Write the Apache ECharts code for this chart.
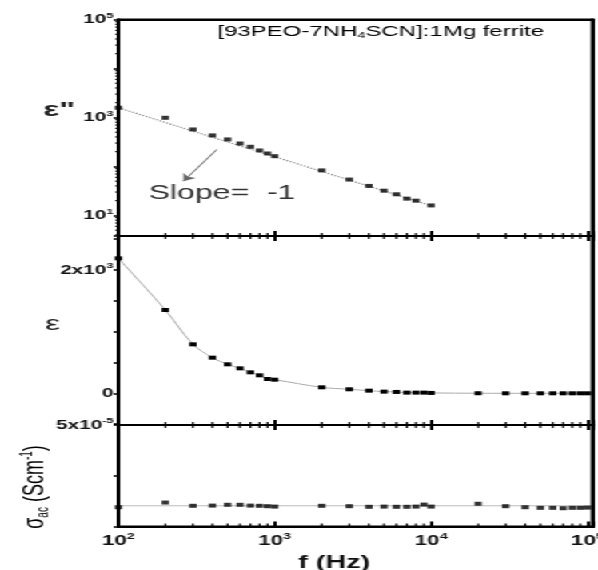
<!DOCTYPE html>
<html><head><meta charset="utf-8">
<script src="https://cdn.jsdelivr.net/npm/echarts@6/dist/echarts.min.js"></script>
<style>
html,body{margin:0;padding:0;overflow:hidden;background:#fff;width:598px;height:570px}
#wrap{position:relative;width:374px;height:570px;transform:scaleX(1.599);transform-origin:0 0;}
#c{position:absolute;left:0;top:0;width:374px;height:570px;}
.frame{position:absolute;box-sizing:border-box;border:2px solid #000;pointer-events:none;z-index:10;}
</style></head><body><div id="wrap"><div id="c"></div></div>
<script>
// ---------- data ----------
const freqTop = [100,200,300,400,500,600,700,800,900,1000,2000,3000,4000,5000,6000,7000,8000,10000];
const epsLoss = [1580,985,569,430,356,294,252,212,184,162,83,54,40,32,27,22,20,16];
const slopeFitX = [100, 10000];
const slopeFitY = [1580, 15.8];
const arrowFrom = [427, 222];
const arrowTo = [261, 50];

const freqAll = [100,200,300,400,500,600,700,800,900,
                 1000,2000,3000,4000,5000,6000,7000,8000,9000,
                 10000,20000,30000,40000,50000,60000,70000,80000,90000,100000];
const epsReal = [2189,1351,794,578,470,405,340,292,232,
                 221,97,65,43,27,22,11,11,11,
                 6,1,0,0,0,0,0,0,0,0];
const sigmaAc = [0.95e-5,1.18e-5,1.02e-5,1.03e-5,1.07e-5,1.07e-5,1.03e-5,1.02e-5,1.0e-5,
                 0.98e-5,1.02e-5,1.0e-5,0.97e-5,0.98e-5,0.97e-5,0.97e-5,0.98e-5,1.08e-5,
                 0.98e-5,1.12e-5,1.0e-5,0.95e-5,0.92e-5,0.92e-5,0.9e-5,0.92e-5,0.92e-5,0.93e-5];
const sigmaFitX = [100, 107600];
const sigmaFitY = [1.02e-5, 1.02e-5];

const minorX = [200,300,400,500,600,700,800,900,2000,3000,4000,5000,6000,7000,8000,9000,
                20000,30000,40000,50000,60000,70000,80000,90000];
const minorY = [4,5,6,7,8,9,20,30,40,50,60,70,80,90,200,300,400,500,600,700,800,900,
                2000,3000,4000,5000,6000,7000,8000,9000,20000,30000,40000,50000,60000,70000,80000,90000];

const X_MIN = 100, X_MAX = 107600;
const FONT = "'Liberation Sans', Arial, sans-serif";

// ---------- layout ----------
const CW = 374, GL = 74, GR = 3.5;
const GW = CW - GL - GR;
const panels = [{top: 19.5, height: 216.5}, {top: 236, height: 189}, {top: 425, height: 101.5}];

// frame overlay (panel borders)
panels.forEach(p => {
  const d = document.createElement('div');
  d.className = 'frame';
  d.style.left = (GL - 1) + 'px';
  d.style.top = (p.top - 1) + 'px';
  d.style.width = (GW + 2) + 'px';
  d.style.height = (p.height + 2) + 'px';
  document.getElementById('wrap').appendChild(d);
});

// ---------- helpers ----------
const rich = {
  b: {fontFamily: FONT, fontWeight: 'bold', fontSize: 13, color: '#111', lineHeight: 16},
  e: {fontFamily: FONT, fontWeight: 'bold', fontSize: 8, color: '#111', verticalAlign: 'top'}
};
const richX = {
  b: {fontFamily: FONT, fontWeight: 'bold', fontSize: 14, color: '#111', lineHeight: 17},
  e: {fontFamily: FONT, fontWeight: 'bold', fontSize: 9, color: '#111', verticalAlign: 'top'}
};
function isPow10(v) {
  const l = Math.log10(v), e = Math.round(l);
  return Math.abs(l - e) < 1e-6 ? e : null;
}
function xAx(gridIndex, position, showLabel) {
  return {
    type: 'log', logBase: 10, gridIndex, position, min: X_MIN, max: X_MAX,
    axisLine: {show: false, onZero: false}, splitLine: {show: false},
    axisTick: {show: true, inside: true, length: 5, lineStyle: {color: '#000', width: 2}},
    axisLabel: showLabel ? {
      margin: 6, rich: richX,
      formatter: v => { const e = isPow10(v); return e === null ? '' : '{b|10}{e|' + e + '}'; }
    } : {show: false}
  };
}
function minorXTicks(xIdx, yIdx, yRef, top, bottom) {
  return {
    type: 'custom', xAxisIndex: xIdx, yAxisIndex: yIdx, silent: true, clip: false, z: 10,
    data: minorX.map(v => [v, yRef]),
    renderItem(params, api) {
      const x = api.coord([api.value(0), api.value(1)])[0];
      const cs = params.coordSys;
      const ch = [];
      const st = {stroke: '#000', lineWidth: 1.2};
      if (bottom) ch.push({type: 'line', shape: {x1: x, y1: cs.y + cs.height, x2: x, y2: cs.y + cs.height - 3}, style: st});
      if (top) ch.push({type: 'line', shape: {x1: x, y1: cs.y, x2: x, y2: cs.y + 3}, style: st});
      return {type: 'group', children: ch};
    }
  };
}
function frameBars(p) {
  const bars = [
    {x: GL - 1, y: p.top - 1, width: GW + 2, height: 2},
    {x: GL - 1, y: p.top + p.height - 1, width: GW + 2, height: 2},
    {x: GL - 1, y: p.top - 1, width: 2, height: p.height + 2},
    {x: GL + GW - 1, y: p.top - 1, width: 2, height: p.height + 2}
  ];
  return bars.map(s => ({type: 'rect', z: 100, silent: true, shape: s, style: {fill: '#000'}}));
}

const option = {
  animation: false,
  grid: panels.map(p => ({left: GL, right: GR, top: p.top, height: p.height, show: false,
    containLabel: false, outerBoundsMode: 'none'})),
  xAxis: [
    xAx(0, 'bottom', false),
    xAx(1, 'bottom', false),
    xAx(1, 'top', false),
    xAx(2, 'bottom', true),
    xAx(2, 'top', false)
  ],
  yAxis: [
    {
      type: 'log', logBase: 10, gridIndex: 0, min: 3.8, max: 100000,
      axisLine: {show: false, onZero: false}, splitLine: {show: false},
      axisTick: {show: true, inside: false, length: 3, lineStyle: {color: '#000', width: 1.5}},
      axisLabel: {margin: 3, rich,
        formatter: v => { const e = isPow10(v); return (e === 1 || e === 3 || e === 5) ? '{b|10}{e|' + e + '}' : ''; }}
    },
    {
      type: 'value', gridIndex: 1, min: -514, max: 2551, splitNumber: 6,
      axisLine: {show: false, onZero: false}, splitLine: {show: false},
      axisTick: {show: true, inside: false, length: 3, lineStyle: {color: '#000', width: 1.5}},
      axisLabel: {margin: 3, rich,
        formatter: v => v === 0 ? '{b|0}' : (v === 2000 ? '{b|2x10}{e|3}' : '')}
    },
    {
      type: 'value', gridIndex: 2, min: 0, max: 5e-5, interval: 2.5e-5,
      axisLine: {show: false, onZero: false}, splitLine: {show: false},
      axisTick: {show: true, inside: false, length: 3, lineStyle: {color: '#000', width: 1.5}},
      axisLabel: {margin: 3, rich,
        formatter: v => Math.abs(v - 5e-5) < 1e-12 ? '{b|5x10}{e|-5}' : ''}
    }
  ],
  series: [
    {
      type: 'line', xAxisIndex: 0, yAxisIndex: 0, showSymbol: false, silent: true,
      data: slopeFitX.map((x, i) => [x, slopeFitY[i]]),
      lineStyle: {color: '#888', width: 1.2, type: 'dotted'},
      markLine: {
        silent: true, symbol: ['none', 'arrow'], symbolSize: 7,
        lineStyle: {color: '#666', width: 1, type: 'solid'},
        label: {show: false},
        data: [[{coord: arrowFrom}, {coord: arrowTo}]]
      }
    },
    {
      type: 'scatter', xAxisIndex: 0, yAxisIndex: 0, symbol: 'rect', symbolSize: [4.6, 4],
      itemStyle: {color: '#000'}, data: freqTop.map((x, i) => [x, epsLoss[i]]), z: 5
    },
    {
      type: 'line', xAxisIndex: 1, yAxisIndex: 1, smooth: 0.35, symbol: 'rect', symbolSize: [4.6, 4],
      lineStyle: {color: '#aaa', width: 1}, itemStyle: {color: '#000'},
      data: freqAll.map((x, i) => [x, epsReal[i]])
    },
    {
      type: 'line', xAxisIndex: 3, yAxisIndex: 2, showSymbol: false, silent: true,
      data: sigmaFitX.map((x, i) => [x, sigmaFitY[i]]),
      lineStyle: {color: '#bbb', width: 1}
    },
    {
      type: 'scatter', xAxisIndex: 3, yAxisIndex: 2, symbol: 'rect', symbolSize: [4.6, 4],
      itemStyle: {color: '#000'}, data: freqAll.map((x, i) => [x, sigmaAc[i]]), z: 5
    },
    minorXTicks(0, 0, 1000, false, true),
    minorXTicks(1, 1, 0, true, true),
    minorXTicks(3, 2, 0, true, true),
    {
      type: 'custom', xAxisIndex: 0, yAxisIndex: 0, silent: true, clip: false, z: 10,
      data: minorY.map(v => [1000, v]),
      renderItem(params, api) {
        const y = api.coord([api.value(0), api.value(1)])[1];
        const cs = params.coordSys;
        return {type: 'line', shape: {x1: cs.x, y1: y, x2: cs.x - 2, y2: y}, style: {stroke: '#000', lineWidth: 1}};
      }
    }
  ],
  graphic: [].concat(...panels.map(frameBars)).concat([
    {type: 'text', left: 136, top: 24, style: {
      text: '{a|[93PEO-7NH}{s|4}{a|SCN]:1Mg ferrite}',
      rich: {a: {fontFamily: FONT, fontSize: 15, color: '#222', lineHeight: 17},
             s: {fontFamily: FONT, fontSize: 9, color: '#222', verticalAlign: 'bottom'}}}},
    {type: 'text', x: 93, y: 193, style: {text: 'Slope=  -1', fontFamily: FONT, fontSize: 20, fill: '#333',
      textAlign: 'left', textVerticalAlign: 'middle'}},
    {type: 'text', x: 37, y: 110, style: {text: 'ε"', fontFamily: FONT, fontSize: 21, fontWeight: 'bold', fill: '#222',
      textAlign: 'center', textVerticalAlign: 'middle'}},
    {type: 'text', x: 33, y: 324, style: {text: 'ε', fontFamily: FONT, fontSize: 21, fill: '#222',
      textAlign: 'center', textVerticalAlign: 'middle'}},
    {type: 'text', x: 22, y: 487, rotation: Math.PI / 2, style: {
      text: '{n|σ}{s|ac}{n| (Scm}{p|-1}{n|)}', textAlign: 'center', textVerticalAlign: 'middle',
      rich: {n: {fontFamily: FONT, fontSize: 18, color: '#222', lineHeight: 20},
             s: {fontFamily: FONT, fontSize: 10, color: '#222', verticalAlign: 'bottom'},
             p: {fontFamily: FONT, fontSize: 10, color: '#222', verticalAlign: 'top'}}}},
    {type: 'text', x: 209, y: 563, style: {text: 'f (Hz)', fontFamily: FONT, fontSize: 18, fontWeight: 'bold', fill: '#111',
      textAlign: 'center', textVerticalAlign: 'middle'}}
  ])
};
const chart = echarts.init(document.getElementById('c'), null, {renderer: 'canvas'});
chart.setOption(option);
</script>
</body></html>
